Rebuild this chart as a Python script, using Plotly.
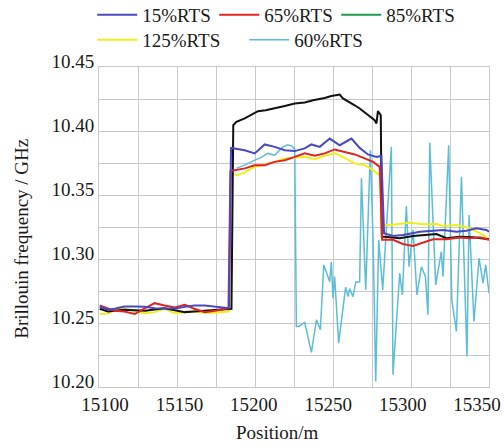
import plotly.graph_objects as go

# Position along the fibre (m) and Brillouin frequency shift (GHz) per load level
x_15 = [15096.5, 15102, 15106.5, 15113, 15120, 15127, 15133.4, 15140, 15147, 15153.6, 15160, 15167, 15174, 15182.7,
        15183.3, 15184.7,
        15193.9, 15200.6, 15207.3, 15214.0, 15220.8, 15227.5, 15234.2, 15238.7, 15244.3, 15251, 15257.7, 15265.6,
        15271.1, 15276.7, 15282.4, 15285.7,
        15287.5, 15293.5, 15300.2, 15311.5, 15318.2, 15327.1, 15336.1, 15342.8, 15349.5, 15356.3, 15358]
y_15 = [10.2629, 10.2603, 10.2611, 10.2629, 10.2629, 10.2626, 10.2616, 10.2616, 10.2613, 10.2626, 10.2637, 10.2637, 10.2629, 10.2616,
        10.2616, 10.3868,
        10.3850, 10.3825, 10.3895, 10.3876, 10.3850, 10.3843, 10.3864, 10.3895, 10.3876, 10.3941, 10.3889, 10.3941,
        10.3868, 10.3817, 10.3798, 10.3804,
        10.3201, 10.3180, 10.3188, 10.3213, 10.3221, 10.3227, 10.3213, 10.3221, 10.3240, 10.3227, 10.3213]

x_65 = [15096.5, 15102, 15106.5, 15113, 15120, 15127, 15133.4, 15140, 15147, 15153.6, 15160, 15167, 15174, 15182.7,
        15183.0, 15184.3,
        15193.9, 15200.6, 15207.3, 15214.0, 15220.8, 15227.5, 15234.2, 15240.9, 15247.6, 15254.3, 15261.1, 15267.8,
        15274.5, 15280.1, 15284.6,
        15286.2, 15293.5, 15300.2, 15307.0, 15313.7, 15320.4, 15329.4, 15338.3, 15345.0, 15351.8, 15358]
y_65 = [10.2637, 10.2611, 10.2595, 10.2590, 10.2570, 10.2616, 10.2655, 10.2637, 10.2621, 10.2642, 10.2611, 10.2585, 10.2595, 10.2616,
        10.2616, 10.3687,
        10.3708, 10.3733, 10.3733, 10.3759, 10.3772, 10.3798, 10.3825, 10.3806, 10.3825, 10.3856, 10.3837, 10.3817,
        10.3786, 10.3759, 10.3720,
        10.3150, 10.3150, 10.3117, 10.3102, 10.3128, 10.3154, 10.3154, 10.3167, 10.3162, 10.3170, 10.3150]

x_85 = [15096.5, 15102, 15106.5, 15113, 15120, 15127, 15133.4, 15140, 15147, 15153.6, 15160, 15167, 15174, 15182.7,
        15185.0, 15186.2,
        15188.3, 15193.9, 15202.8, 15208.0, 15214.0, 15220.8, 15227.5, 15234.2, 15239.8, 15244.3, 15247.6, 15252.1,
        15257.7, 15259.9, 15264.4, 15267.8, 15271.1, 15274.5, 15277.9, 15281.2, 15282.4, 15283.4, 15285.3,
        15286.0, 15288.0, 15298.0, 15307.0, 15316.0, 15322.7, 15329.4, 15338.3, 15347.3, 15354.0, 15358]
y_85 = [10.2611, 10.2590, 10.2595, 10.2603, 10.2600, 10.2595, 10.2605, 10.2616, 10.2600, 10.2585, 10.2590, 10.2595, 10.2603, 10.2611,
        10.2611, 10.4045,
        10.4071, 10.4098, 10.4155, 10.4162, 10.4176, 10.4196, 10.4215, 10.4222, 10.4240, 10.4248, 10.4258, 10.4274,
        10.4285, 10.4254, 10.4227, 10.4201, 10.4176, 10.4144, 10.4110, 10.4084, 10.4059, 10.4155, 10.4123,
        10.3174, 10.3174, 10.3162, 10.3180, 10.3188, 10.3195, 10.3162, 10.3174, 10.3170, 10.3162, 10.3154]

x_125 = [15096.5, 15102, 15106.5, 15113, 15120, 15127, 15133.4, 15140, 15147, 15153.6, 15160, 15167, 15174, 15182.7,
         15183.5, 15184.7,
         15189.0, 15193.9, 15200.6, 15207.3, 15214.0, 15220.8, 15227.5, 15234.2, 15240.9, 15247.6, 15254.3, 15261.1,
         15267.8, 15274.5, 15280.1, 15284.6,
         15286.6, 15291.3, 15304.7, 15313.7, 15322.7, 15327.1, 15336.1, 15345.0, 15354.0, 15358]
y_125 = [10.2570, 10.2575, 10.2603, 10.2616, 10.2590, 10.2577, 10.2585, 10.2611, 10.2577, 10.2585, 10.2590, 10.2580, 10.2580, 10.2590,
         10.2590, 10.3669,
         10.3655, 10.3677, 10.3720, 10.3739, 10.3759, 10.3786, 10.3790, 10.3798, 10.3780, 10.3806, 10.3825, 10.3790,
         10.3747, 10.3733, 10.3694, 10.3655,
         10.3266, 10.3266, 10.3283, 10.3271, 10.3273, 10.3258, 10.3266, 10.3240, 10.3188, 10.3150]

x_60 = [15188.5, 15193.9, 15200.6, 15205.3, 15209.3, 15214.0, 15219.4, 15222.8, 15225.5, 15227.5, 15228.6, 15230.2,
        15234.2, 15238.7, 15242.1, 15244.7, 15247.0, 15251.0, 15252.1, 15253.2, 15254.3, 15257.0, 15261.7, 15263.3,
        15264.4, 15266.6, 15268.5, 15271.1, 15272.3, 15275.2, 15278.3, 15280.2, 15281.9, 15283.9, 15286.6, 15292.4,
        15293.5, 15298.0, 15299.8, 15302.5, 15304.3, 15307.0, 15309.6, 15312.6, 15315.3, 15317.0, 15318.2, 15322.2,
        15326.0, 15327.1, 15330.9, 15333.0, 15336.1, 15339.5, 15343.2, 15344.6, 15347.9, 15351.3, 15354.0, 15355.8,
        15358.0]
y_60 = [10.3710, 10.3733, 10.3772, 10.3796, 10.3825, 10.3811, 10.3874, 10.3893, 10.3882, 10.3858, 10.2473, 10.2473,
        10.2504, 10.2270, 10.2525, 10.2447, 10.2954, 10.2823, 10.2979, 10.2694, 10.2862, 10.2343, 10.2780, 10.2706,
        10.2767, 10.2706, 10.2821, 10.2821, 10.3630, 10.2759, 10.3850, 10.3110, 10.2044, 10.3149, 10.2759, 10.3876,
        10.2096, 10.2889, 10.2720, 10.3414, 10.2940, 10.3227, 10.2720, 10.2940, 10.2862, 10.2564, 10.3907, 10.2798,
        10.3057, 10.2862, 10.3889, 10.2681, 10.2434, 10.3642, 10.2239, 10.3344, 10.2512, 10.3006, 10.2811, 10.2954,
        10.2733]

x_ticks = [15100, 15150, 15200, 15250, 15300, 15350]
y_ticks = [10.20, 10.25, 10.30, 10.35, 10.40, 10.45]

BLUE = "#4848c4"
RED = "#e2231f"
GREEN = "#1f9a50"
BLACK = "#111111"
YELLOW = "#f2ee1c"
CYAN = "#5bbdd6"
GRID = "#c9c9c9"
TEXT = "#1a1a1a"
FONT = "Liberation Serif, Times New Roman, serif"

fig = go.Figure()

# cyan drawn first so the other curves sit on top of it
fig.add_trace(go.Scatter(x=x_60, y=y_60, mode="lines", name="60%RTS",
                         line=dict(color=CYAN, width=1.5), legend="legend2", legendrank=5))
fig.add_trace(go.Scatter(x=x_125, y=y_125, mode="lines", name="125%RTS",
                         line=dict(color=YELLOW, width=2), legend="legend2", legendrank=4))
fig.add_trace(go.Scatter(x=x_85, y=y_85, mode="lines", name="85%RTS",
                         line=dict(color=BLACK, width=2), showlegend=False))
fig.add_trace(go.Scatter(x=x_65, y=y_65, mode="lines", name="65%RTS",
                         line=dict(color=RED, width=2), legend="legend", legendrank=2))
fig.add_trace(go.Scatter(x=x_15, y=y_15, mode="lines", name="15%RTS",
                         line=dict(color=BLUE, width=2), legend="legend", legendrank=1))
# legend key for the 85%RTS entry
fig.add_trace(go.Scatter(x=[None], y=[None], mode="lines", name="85%RTS",
                         line=dict(color=GREEN, width=2), legend="legend", legendrank=3))

x_lo, x_hi = 15096, 15358

legend_common = dict(orientation="h", xref="container", yref="container",
                     xanchor="left", yanchor="middle", bgcolor="rgba(0,0,0,0)",
                     font=dict(family=FONT, size=19, color=TEXT), itemwidth=40)

fig.update_layout(
    width=504, height=447,
    margin=dict(l=99, r=15, t=67, b=60),
    paper_bgcolor="white", plot_bgcolor="white",
    font=dict(family=FONT, size=19, color=TEXT),
    showlegend=True,
    legend=dict(legend_common, x=0.183, y=1 - 15 / 447, entrywidth=67),
    legend2=dict(legend_common, x=0.183, y=1 - 40 / 447, entrywidth=97),
    xaxis=dict(range=[x_lo, x_hi], tickvals=x_ticks, ticktext=[str(v) for v in x_ticks],
               showgrid=False, ticks="", zeroline=False, automargin=False,
               showline=True, mirror=True, linecolor=GRID, linewidth=1,
               minor=dict(tick0=x_lo, dtick=(x_hi - x_lo) / 10, showgrid=True,
                          gridcolor=GRID, gridwidth=1, ticks=""),
               tickfont=dict(family=FONT, size=19, color=TEXT)),
    yaxis=dict(range=[10.20, 10.45], tickvals=y_ticks, ticktext=[f"{v:.2f}" for v in y_ticks],
               showgrid=True, gridcolor=GRID, gridwidth=1, ticks="", zeroline=False, automargin=False,
               showline=True, mirror=True, linecolor=GRID, linewidth=1,
               minor=dict(dtick=0.025, tick0=10.20, showgrid=True, gridcolor=GRID, gridwidth=1, ticks=""),
               tickfont=dict(family=FONT, size=19, color=TEXT), ticklabelshift=-6),
    annotations=[
        dict(text="Brillouin frequency / GHz", xref="paper", yref="paper",
             x=-0.198, y=0.4626, xanchor="center", yanchor="middle", textangle=-90,
             showarrow=False, font=dict(family=FONT, size=19, color=TEXT)),
        dict(text="Position/m", xref="paper", yref="paper",
             x=0.458, y=-0.1425, xanchor="center", yanchor="middle",
             showarrow=False, font=dict(family=FONT, size=19, color=TEXT)),
    ],
)

fig.write_html("out.html")
